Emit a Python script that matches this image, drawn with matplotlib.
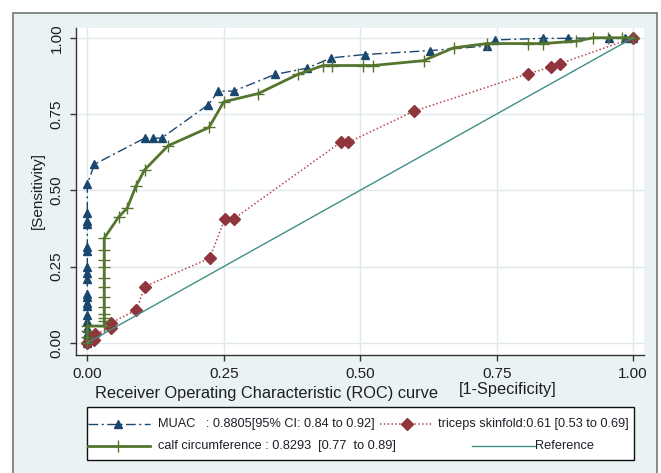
import matplotlib
matplotlib.use('Agg')
import matplotlib.pyplot as plt
from matplotlib.patches import Rectangle

plt.rcParams['font.family'] = ['Liberation Sans', 'DejaVu Sans']

# ---- data ----
muac_fpr = [0, 0, 0, 0, 0, 0, 0, 0, 0, 0, 0, 0, 0, 0, 0, 0, 0, 0, 0,
            0.013, 0.105, 0.12, 0.136, 0.222, 0.24, 0.268, 0.344, 0.402,
            0.447, 0.508, 0.628, 0.732, 0.747, 0.835, 0.881, 0.956, 0.985, 1.0]
muac_tpr = [0, 0.015, 0.03, 0.05, 0.07, 0.09, 0.12, 0.13, 0.15, 0.16, 0.21,
            0.23, 0.25, 0.30, 0.315, 0.39, 0.40, 0.425, 0.52,
            0.585, 0.671, 0.671, 0.671, 0.781, 0.825, 0.825, 0.88, 0.90,
            0.934, 0.945, 0.958, 0.973, 0.993, 0.998, 0.998, 1.0, 1.0, 1.0]

triceps_fpr = [0, 0.013, 0.015, 0.044, 0.044, 0.09, 0.105, 0.224, 0.252, 0.268,
               0.464, 0.478, 0.598, 0.807, 0.85, 0.866, 1.0]
triceps_tpr = [0, 0.009, 0.03, 0.047, 0.066, 0.107, 0.184, 0.277, 0.406, 0.406,
               0.657, 0.657, 0.759, 0.882, 0.904, 0.915, 1.0]

calf_fpr = [0, 0, 0, 0, 0.031, 0.031, 0.031, 0.031, 0.031, 0.031, 0.031, 0.031,
            0.031, 0.031, 0.031, 0.031, 0.058, 0.073, 0.089, 0.105, 0.148, 0.223,
            0.25, 0.313, 0.386, 0.432, 0.448, 0.506, 0.523, 0.616, 0.671, 0.732,
            0.808, 0.835, 0.896, 0.927, 0.954, 0.98, 1.0]
calf_tpr = [0, 0.02, 0.04, 0.055, 0.055, 0.072, 0.08, 0.096, 0.118, 0.151, 0.184,
            0.211, 0.25, 0.271, 0.304, 0.343, 0.414, 0.441, 0.513, 0.567, 0.646,
            0.706, 0.79, 0.817, 0.88, 0.909, 0.909, 0.909, 0.909, 0.925, 0.967,
            0.981, 0.981, 0.981, 0.989, 1.0, 1.0, 1.0, 1.0]

ref_x = [0, 1]
ref_y = [0, 1]

ticks = [0, 0.25, 0.5, 0.75, 1.0]
tick_labels = ['0.00', '0.25', '0.50', '0.75', '1.00']

label_muac = 'MUAC   : 0.8805[95% CI: 0.84 to 0.92]'
label_triceps = 'triceps skinfold:0.61 [0.53 to 0.69]'
label_calf = 'calf circumference : 0.8293  [0.77  to 0.89]'
label_ref = 'Reference'
xlabel_main = 'Receiver Operating Characteristic (ROC) curve'
xlabel_side = '[1-Specificity]'
ylabel = '[Sensitivity]'

# ---- styles ----
C_MUAC = '#1a476f'
C_TRI = '#90353b'
C_TRI_LINE = '#b5474f'
C_CALF = '#55752f'
C_REF = '#3e8f86'
BG = '#eaf2f3'
TXT = '#1e1e28'

W, H = 661, 473
fig = plt.figure(figsize=(W / 100, H / 100), dpi=100)
fig.patch.set_facecolor('white')

ov = fig.add_axes([0, 0, 1, 1])
ov.set_xlim(0, W)
ov.set_ylim(H, 0)
ov.axis('off')
ov.add_patch(Rectangle((13, 13), 644, 500, facecolor=BG, edgecolor='#7f7f7f', lw=1.3))

ax = fig.add_axes([76 / W, 1 - 355 / H, (644 - 76) / W, (355 - 28) / H])
ax.set_zorder(2)
ax.set_facecolor('white')

dashdot = (0, (7, 2.5, 1.5, 2.5))
ax.plot(muac_fpr, muac_tpr, color=C_MUAC, ls=dashdot, lw=1.0,
        marker='^', ms=6.2, mec=C_MUAC, mfc=C_MUAC, zorder=3)
ax.plot(triceps_fpr, triceps_tpr, color=C_TRI_LINE, ls=(0, (1, 1.5)), lw=1.1,
        marker='D', ms=6, mec=C_TRI, mfc=C_TRI, zorder=4)
ax.plot(calf_fpr, calf_tpr, color=C_CALF, lw=2.0,
        marker='+', ms=8, mew=1.0, mec=C_CALF, zorder=5)
ax.plot(ref_x, ref_y, color=C_REF, lw=1.0, zorder=6)

ax.set_xlim(-0.0207, 1.020)
ax.set_ylim(-0.040, 1.032)
ax.set_xticks(ticks)
ax.set_xticklabels(tick_labels)
ax.set_yticks(ticks)
ax.set_yticklabels(tick_labels, rotation=90, va='center')
ax.grid(True, color='#dfe9ec', lw=1.0)
ax.set_axisbelow(True)
for s in ['top', 'right']:
    ax.spines[s].set_visible(False)
for s in ['left', 'bottom']:
    ax.spines[s].set_color('#333333')
    ax.spines[s].set_linewidth(1.0)
ax.tick_params(direction='out', length=4, width=1, color='#333333',
               labelsize=11, labelcolor=TXT)
ax.tick_params(axis='x', pad=5)
ax.tick_params(axis='y', pad=5)

# axis titles
ov.text(95, 393, xlabel_main, ha='left', va='center', fontsize=11.8, color=TXT)
ov.text(459, 389, xlabel_side, ha='left', va='center', fontsize=11.8, color=TXT)
ov.text(38, 190, ylabel, ha='center', va='center', rotation=90, fontsize=11, color=TXT)

# legend
ov.add_patch(Rectangle((86.7, 406.7), 634 - 86.7, 460 - 406.7,
                       facecolor='white', edgecolor='#111111', lw=1.0))
r1, r2 = 424.3, 446
LFS = 9.2
ov.plot([87.5, 150], [r1, r1], color=C_MUAC, ls=dashdot, lw=1.0)
ov.plot([118], [r1], marker='^', ms=6.2, color=C_MUAC, ls='none')
ov.text(158, r1, label_muac, ha='left', va='center', fontsize=LFS, color=TXT)
ov.plot([380, 431.7], [r1, r1], color=C_TRI_LINE, ls=(0, (1, 1.5)), lw=1.1)
ov.plot([407], [r1], marker='D', ms=6, color=C_TRI, ls='none')
ov.text(438, r1, label_triceps, ha='left', va='center', fontsize=LFS, color=TXT)
ov.plot([87.5, 150], [r2, r2], color=C_CALF, lw=2.0)
ov.plot([118], [r2], marker='+', ms=8, mew=1.0, color=C_CALF, ls='none')
ov.text(158, r2, label_calf, ha='left', va='center', fontsize=LFS, color=TXT)
ov.plot([471.7, 535], [r2, r2], color=C_REF, lw=1.0)
ov.text(535, r2, label_ref, ha='left', va='center', fontsize=LFS, color=TXT)

fig.savefig('out.png', dpi=100, facecolor=fig.get_facecolor())
